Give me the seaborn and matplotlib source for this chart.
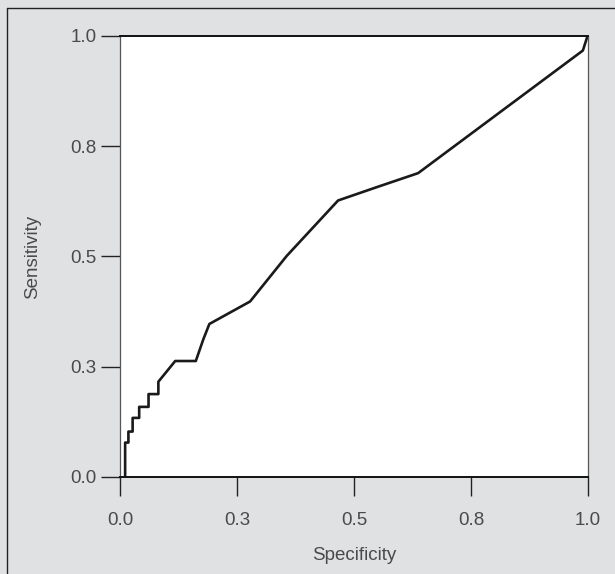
import matplotlib
matplotlib.use("Agg")
import matplotlib.pyplot as plt
import seaborn as sns
import pandas as pd
from matplotlib.lines import Line2D

# ROC curve points (x = 1 - specificity, y = sensitivity)
fpr = [0.011, 0.011, 0.018, 0.018, 0.027, 0.027, 0.041, 0.041, 0.061, 0.061,
       0.082, 0.082, 0.118, 0.162, 0.178, 0.191, 0.278, 0.356, 0.466, 0.548,
       0.637, 0.989, 0.999]
tpr = [0.000, 0.078, 0.078, 0.103, 0.103, 0.134, 0.134, 0.159, 0.159, 0.188,
       0.188, 0.216, 0.263, 0.263, 0.312, 0.347, 0.398, 0.501, 0.627, 0.657,
       0.689, 0.967, 1.000]

tick_pos = [0.0, 0.25, 0.5, 0.75, 1.0]
tick_labels = ["0.0", "0.3", "0.5", "0.8", "1.0"]

df = pd.DataFrame({"fpr": fpr, "tpr": tpr})

sns.set_style("white")
plt.rcParams["font.family"] = ["Liberation Sans", "DejaVu Sans"]

bg = "#dfe1e3"
txt = "#4a4a4a"

fig = plt.figure(figsize=(6.15, 5.74), dpi=100, facecolor=bg)
ax = fig.add_axes([0.1951, 0.169, 0.761, 0.7683])
ax.set_facecolor("white")

sns.lineplot(data=df, x="fpr", y="tpr", sort=False, estimator=None,
             color="#1a1a1a", linewidth=1.9, ax=ax)

ax.set_xlim(0, 1)
ax.set_ylim(0, 1)
ax.set_xticks(tick_pos)
ax.set_xticklabels(tick_labels)
ax.set_yticks(tick_pos)
ax.set_yticklabels(tick_labels)
ax.tick_params(axis="both", bottom=True, left=True, direction="out",
               length=14, width=1.0, color="#222222", labelcolor=txt,
               labelsize=13.5, pad=3)
ax.tick_params(axis="x", pad=11)

for side in ["top", "bottom"]:
    ax.spines[side].set_visible(True)
    ax.spines[side].set_color("#111111")
    ax.spines[side].set_linewidth(1.4)
for side in ["left", "right"]:
    ax.spines[side].set_visible(True)
    ax.spines[side].set_color("#555555")
    ax.spines[side].set_linewidth(0.9)

ax.set_xlabel("Specificity", color=txt, fontsize=13.5, labelpad=13)
ax.set_ylabel("Sensitivity", color=txt, fontsize=13.5, labelpad=21)

# frame line at top/left of the figure
fig.add_artist(Line2D([7 / 615, 7 / 615], [0, 1 - 8 / 574], transform=fig.transFigure,
                      color="#222222", linewidth=1.0))
fig.add_artist(Line2D([7 / 615, 1], [1 - 8 / 574, 1 - 8 / 574], transform=fig.transFigure,
                      color="#222222", linewidth=1.0))

fig.savefig("out.png", dpi=100, facecolor=bg)
